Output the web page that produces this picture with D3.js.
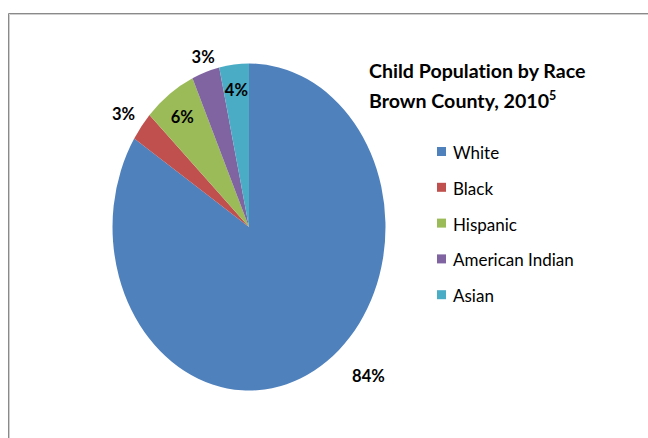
<!DOCTYPE html>
<html><head><meta charset="utf-8">
<script src="https://cdn.jsdelivr.net/npm/d3@7"></script>
<style>
html,body{margin:0;padding:0;background:#fff;}
svg{display:block;}
text{font-family:Lato,"Open Sans",sans-serif;font-variant-ligatures:none;}
</style></head>
<body>
<svg id="chart" width="648" height="438"></svg>
<script>
// ---- data ----
const categories = ["White", "Black", "Hispanic", "American Indian", "Asian"];
const values = [84.1, 2.9, 6.2, 3.3, 3.5];
const colors = ["#4F81BD", "#C0504D", "#9BBB59", "#8064A2", "#4BACC6"];
const titleLines = ["Child Population by Race", "Brown County, 2010"];
const titleNote = "5";
// label placement (fraction along slice, radius factor)
const labelAlong = [0.45, 0.4, 0.48, 0.55, 0.5];
const labelRadius = [1.265, 1.15, 0.83, 1.09, 0.84];

const svg = d3.select("#chart");
const W = 648, H = 438;

// frame
svg.append("path").attr("d", `M8.5,${H} V13.5 H${W}`).attr("fill","none").attr("stroke","#8a8a8a").attr("stroke-width",1);
svg.append("path").attr("d", `M9.5,${H} V14.5 H${W}`).attr("fill","none").attr("stroke","#cfcfcf").attr("stroke-width",1);

const cx = 249, cy = 227, rx = 136.5, ry = 163.5;
const data = categories.map((c,i)=>({cat:c, value:values[i], color:colors[i], i}));
const pie = d3.pie().value(d=>d.value).sort(null);
const arcs = pie(data);
const arc = d3.arc().innerRadius(0).outerRadius(1);

const g = svg.append("g").attr("transform", `translate(${cx},${cy}) scale(${rx},${ry})`);
g.selectAll("path").data(arcs).join("path")
  .attr("d", arc)
  .attr("fill", d=>d.data.color)
  .attr("stroke","none");

const fmt = d3.format(".0f");
svg.selectAll("text.lbl").data(arcs).join("text")
  .attr("class","lbl")
  .attr("x", d=>{const a=d.startAngle+(d.endAngle-d.startAngle)*labelAlong[d.index];return cx+Math.sin(a)*rx*labelRadius[d.index];})
  .attr("y", d=>{const a=d.startAngle+(d.endAngle-d.startAngle)*labelAlong[d.index];return cy-Math.cos(a)*ry*labelRadius[d.index];})
  .attr("text-anchor","middle").attr("dominant-baseline","central")
  .attr("font-size",16.5).attr("font-weight","bold").attr("fill","#000")
  .text(d=>fmt(d.data.value)+"%");

// title
const title = svg.append("text").attr("font-size",19.6).attr("font-weight","bold").attr("fill","#000");
title.append("tspan").attr("x",369).attr("y",78).text(titleLines[0]);
title.append("tspan").attr("x",369).attr("y",108).text(titleLines[1]);
title.append("tspan").attr("font-size",12.5).attr("dy",-8).text(titleNote);

// legend
const leg = svg.append("g");
const items = leg.selectAll("g").data(data).join("g")
  .attr("transform",(d,i)=>`translate(437,${152+i*35.8})`);
items.append("rect").attr("x",0).attr("y",-5).attr("width",9).attr("height",9).attr("fill",d=>d.color);
items.append("text").attr("x",16).attr("y",0.5).attr("dominant-baseline","central")
  .attr("font-size",17).attr("fill","#000").text(d=>d.cat);
</script>
</body></html>
